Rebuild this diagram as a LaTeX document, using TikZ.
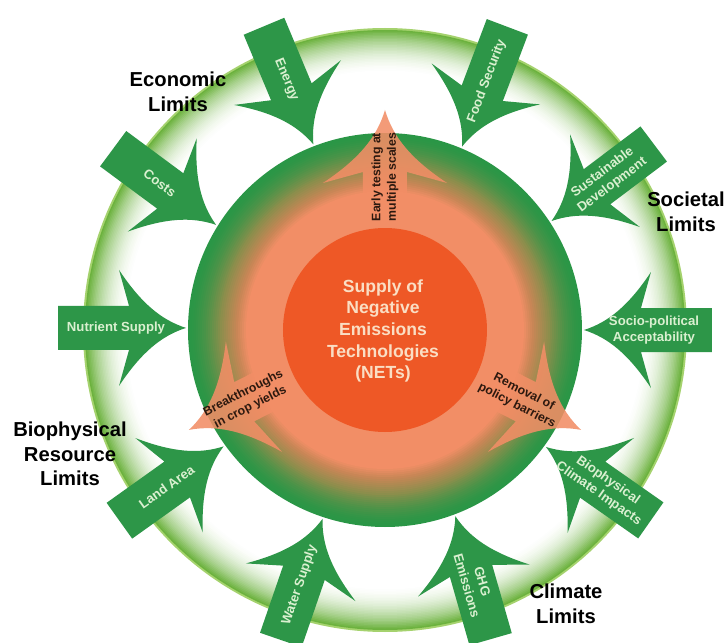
\documentclass[tikz,border=0pt]{standalone}
\usepackage{fontspec}
\setmainfont{Liberation Sans}
\usepackage{tikz}

\definecolor{netgreen}{RGB}{45,150,72}
\definecolor{netlabel}{RGB}{218,240,208}
\definecolor{netsalmon}{RGB}{242,142,102}
\definecolor{netcore}{RGB}{238,88,38}
\definecolor{netbrown}{RGB}{200,134,86}
\definecolor{netolive}{RGB}{140,142,76}
\definecolor{netdisc}{RGB}{42,150,70}
\definecolor{netringb}{RGB}{108,178,62}
\definecolor{netringc}{RGB}{165,210,110}
\definecolor{nettext}{RGB}{250,222,196}
\definecolor{netdark}{RGB}{45,25,15}

\begin{document}
\begin{tikzpicture}[x=0.02cm,y=0.02cm,
  limitlabel/.style={align=center,font=\fontsize{11.5}{14}\selectfont\bfseries},
  greenarrow/.style={fill=netgreen},
  arrowtext/.style={align=center,text=netlabel,inner sep=0pt,font=\fontsize{7.5}{9.2}\selectfont\bfseries},
  netarrow/.style={fill=netsalmon,opacity=0.88},
  netlabel/.style={align=center,text=netdark,inner sep=0pt,font=\fontsize{7}{8.8}\selectfont\bfseries}]

\fill[white] (-385,-313) rectangle (340,330);
\clip (-385,-313) rectangle (340,330);

% outer ring, fading inwards
\fill[netringc] (0,0) circle (302);
\foreach \k in {0,...,30}{
  \pgfmathtruncatemacro\p{100*(1-\k/30)^2}
  \fill[netringb!\p!white] (0,0) circle ({300-1.5*\k});
}

% disc, green outside to salmon inside
\foreach \k in {0,...,16}{
  \pgfmathtruncatemacro\p{100*(\k/16)^1.6}
  \fill[netolive!\p!netdisc] (0,0) circle ({197-2*\k});
}
\foreach \k in {0,...,8}{
  \pgfmathtruncatemacro\p{100*\k/8}
  \fill[netbrown!\p!netolive] (0,0) circle ({165-2*\k});
}
\foreach \k in {0,...,5}{
  \pgfmathtruncatemacro\p{100*\k/5}
  \fill[netsalmon!\p!netbrown] (0,0) circle ({149-2*\k});
}

% orange arrows going out
\foreach \ang in {90,207,-27}{
  \begin{scope}[shift={(\ang:220)},rotate=\ang]
    \fill[netarrow] (0,0) .. controls (-27,8) and (-49,26) .. (-73,62) -- (-62,22) -- (-130,22)
      -- (-130,-22) -- (-62,-22) -- (-73,-62) .. controls (-49,-26) and (-27,-8) .. (0,0) -- cycle;
  \end{scope}
}

\fill[netcore] (0,0) circle (102);
\node[align=center,text=nettext,font=\fontsize{10}{12.3}\selectfont\bfseries] (nets) at (-2,-1)
  {Supply of\\Negative\\Emissions\\Technologies\\(NETs)};

\node[netlabel,rotate=90] (testing) at (90:153) {Early testing at\\multiple scales};
\node[netlabel,rotate=27] (yields) at (207:155) {Breakthroughs\\in crop yields};
\node[netlabel,rotate=-27] (policy) at (-27:152) {Removal of\\policy barriers};

% green arrows coming in
\foreach \ang/\dir/\rot/\lab [count=\i] in {111.1/-67.3/-67.3/Energy,
    67.2/-110.7/69.3/Food Security,
    33.2/-143/37/{Sustainable\\Development},
    0/180/0/{Socio-political\\Acceptability},
    -36/145/-35/{Biophysical\\Climate Impacts},
    -69.3/106/-74/{GHG\\Emissions},
    -108.3/71/71/Water Supply,
    -144.2/35.5/35.5/Land Area,
    179.4/0/0/Nutrient Supply,
    148.1/-36.5/-36.5/Costs}{
  \begin{scope}[shift={(\ang:199)},rotate=\dir]
    \fill[greenarrow] (0,0) .. controls (-25,8) and (-45,25) .. (-67,58) -- (-57,22) -- (-128,22)
      -- (-128,-22) -- (-57,-22) -- (-67,-58) .. controls (-45,-25) and (-25,-8) .. (0,0) -- cycle;
    \node[arrowtext,rotate=\rot] (limit\i) at (-70,0) {\lab};
  \end{scope}
}

\node[limitlabel] (economic) at (-207,238) {Economic\\Limits};
\node[limitlabel] (societal) at (301,118) {Societal\\Limits};
\node[limitlabel] (biophysical) at (-315,-124) {Biophysical\\Resource\\Limits};
\node[limitlabel] (climate) at (181,-274) {Climate\\Limits};

\end{tikzpicture}
\end{document}
